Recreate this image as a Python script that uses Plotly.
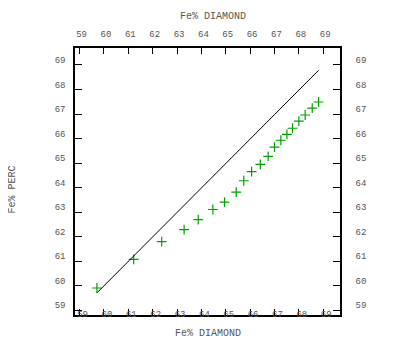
import plotly.graph_objects as go

# Data
fe_diamond = [59.71, 61.22, 62.37, 63.29, 63.87, 64.47, 64.95, 65.43, 65.74, 66.06,
              66.42, 66.74, 67.00, 67.26, 67.51, 67.74, 68.00, 68.26, 68.55, 68.81]
fe_perc = [59.91, 61.08, 61.80, 62.29, 62.70, 63.11, 63.41, 63.82, 64.28, 64.65,
           64.95, 65.27, 65.65, 65.93, 66.17, 66.42, 66.71, 66.96, 67.24, 67.49]
line_x = [59.72, 68.81]
line_y = [59.72, 68.78]
tick_vals = [59, 60, 61, 62, 63, 64, 65, 66, 67, 68, 69]
tick_text = [str(v) for v in tick_vals]
x_title = "Fe% DIAMOND"
y_title = "Fe% PERC"

axis_range = [58.81, 69.69]
tick_font = dict(family="Liberation Mono", size=9, color="#555555")
title_font = dict(family="Liberation Mono", size=10, color="#555555")

fig = go.Figure()
fig.add_trace(go.Scatter(x=line_x, y=line_y, mode="lines",
                         line=dict(color="black", width=1),
                         xaxis="x2", yaxis="y2", hoverinfo="skip", showlegend=False))
fig.add_trace(go.Scatter(x=fe_diamond, y=fe_perc, mode="markers",
                         marker=dict(symbol="cross-thin", size=7,
                                     line=dict(color="#00a000", width=1.2)),
                         showlegend=False))

common = dict(range=axis_range, tickvals=tick_vals, ticktext=tick_text,
              ticks="inside", tickcolor="black", tickwidth=1,
              showline=True, linecolor="black", linewidth=1.5, automargin=False,
              showgrid=False, zeroline=False, tickfont=tick_font, fixedrange=True)

fig.update_layout(
    template="none",
    width=388, height=330,
    margin=dict(l=67, r=56, t=40, b=23, pad=0),
    paper_bgcolor="white", plot_bgcolor="white",
    xaxis=dict(**common, ticklen=6, side="bottom", ticklabelstandoff=-11, ticklabelshift=3),
    xaxis2=dict(**common, ticklen=6, side="top", overlaying="x", matches="x",
                ticklabelstandoff=6, ticklabelshift=2),
    yaxis=dict(**common, ticklen=7, side="left", ticklabelstandoff=6, ticklabelshift=-5),
    yaxis2=dict(**common, ticklen=7, side="right", overlaying="y", matches="y",
                ticklabelstandoff=12, ticklabelshift=-5),
    annotations=[
        dict(text=x_title, xref="paper", yref="paper", x=0.52, y=1, yshift=32,
             showarrow=False, font=title_font, xanchor="center", yanchor="middle"),
        dict(text=x_title, xref="paper", yref="paper", x=0.5, y=0, yshift=-18,
             showarrow=False, font=title_font, xanchor="center", yanchor="middle"),
        dict(text=y_title, xref="paper", yref="paper", x=0, xshift=-62, y=0.47,
             textangle=-90, showarrow=False, font=title_font,
             xanchor="center", yanchor="middle"),
        dict(text=y_title, xref="paper", yref="paper", x=1, xshift=54, y=0.5,
             textangle=90, showarrow=False, font=title_font,
             xanchor="center", yanchor="middle"),
    ],
)

fig.write_html("out.html")
